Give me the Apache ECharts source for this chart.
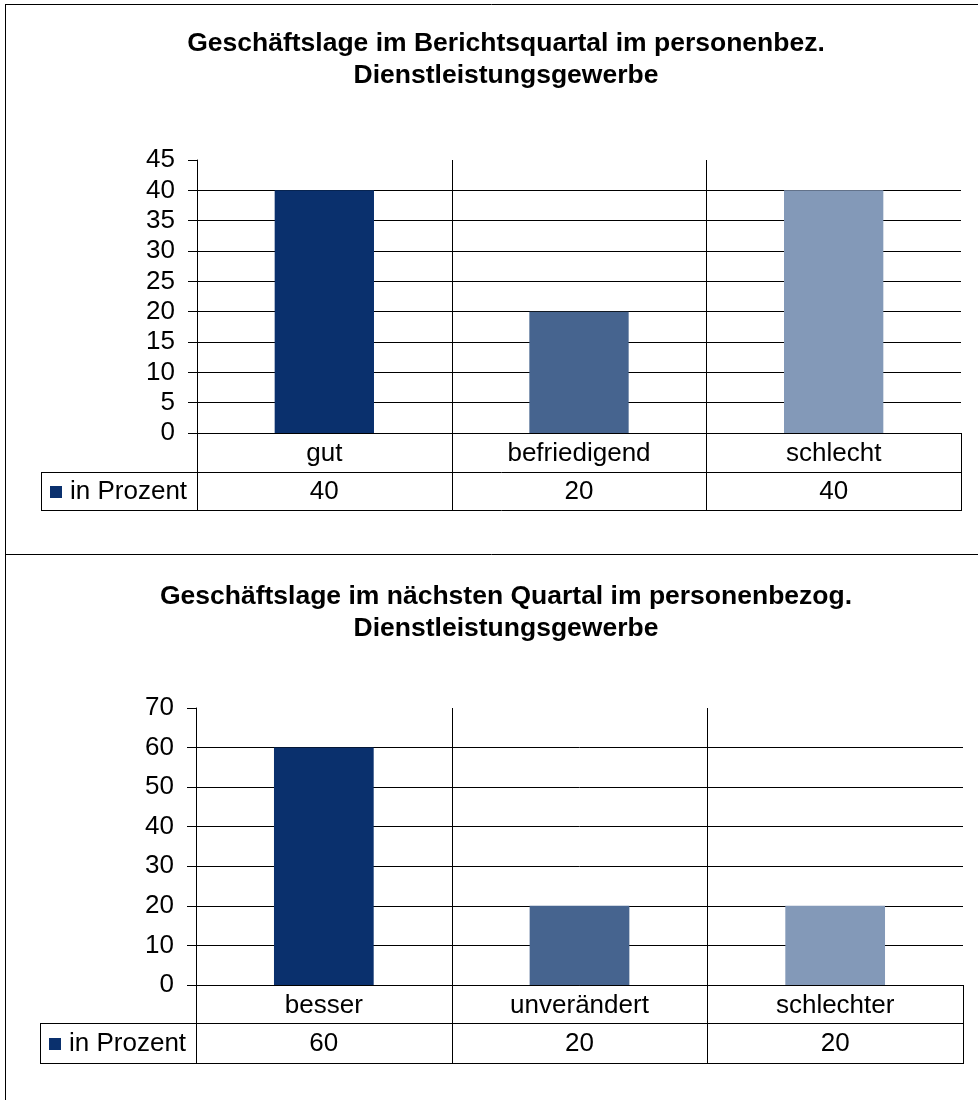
<!DOCTYPE html>
<html>
<head>
<meta charset="utf-8">
<script src="https://cdn.jsdelivr.net/npm/echarts@6/dist/echarts.min.js"></script>
<style>
  html, body { margin: 0; padding: 0; background: #fff; }
  #chart { width: 978px; height: 1100px; }
</style>
</head>
<body>
<div id="chart"></div>
<script>
// Survey results: business situation in personal services (percent of answers)
const titleTop = ['Geschäftslage im Berichtsquartal im personenbez.', 'Dienstleistungsgewerbe'];
const titleBottom = ['Geschäftslage im nächsten Quartal im personenbezog.', 'Dienstleistungsgewerbe'];
const categoriesTop = ['gut', 'befriedigend', 'schlecht'];
const valuesTop = [40, 20, 40];
const categoriesBottom = ['besser', 'unverändert', 'schlechter'];
const valuesBottom = [60, 20, 20];
const axisTop = { max: 45, interval: 5 };
const axisBottom = { max: 70, interval: 10 };
const seriesName = 'in Prozent';
const barColors = ['#0A306D', '#46648F', '#8399B8'];

const FONT = '"Liberation Sans", Arial, sans-serif';
const LINE = '#000';

const panels = [
  { title: titleTop, cats: categoriesTop, vals: valuesTop, axis: axisTop, titleY: 28,
    grid: { left: 197, top: 160, width: 764, height: 273 }, rows: [39, 38], legendLeft: 41 },
  { title: titleBottom, cats: categoriesBottom, vals: valuesBottom, axis: axisBottom, titleY: 581,
    grid: { left: 196, top: 708, width: 767, height: 277 }, rows: [38, 40], legendLeft: 40 }
];

const chart = echarts.init(document.getElementById('chart'), null, { renderer: 'canvas' });

chart.setOption({
  animation: false,
  backgroundColor: '#fff',
  grid: panels.map(p => Object.assign({ containLabel: false }, p.grid)),
  xAxis: panels.map((p, i) => ({
    type: 'category',
    gridIndex: i,
    data: p.cats,
    boundaryGap: true,
    axisLine: { show: true, lineStyle: { color: LINE, width: 1 } },
    axisTick: { show: false },
    splitLine: { show: false },
    axisLabel: { show: true, margin: 8, color: '#000', fontFamily: FONT, fontSize: 26 }
  })),
  yAxis: panels.map((p, i) => ({
    type: 'value',
    gridIndex: i,
    min: 0,
    max: p.axis.max,
    interval: p.axis.interval,
    axisLine: { show: true, lineStyle: { color: LINE, width: 1 } },
    axisTick: { show: true, length: 9, inside: false, lineStyle: { color: LINE, width: 1 } },
    splitLine: { show: true, showMaxLine: false, lineStyle: { color: LINE, width: 1 } },
    axisLabel: { margin: 22, color: '#000', fontFamily: FONT, fontSize: 26 }
  })),
  series: panels.map((p, i) => ({
    type: 'bar',
    name: seriesName,
    xAxisIndex: i,
    yAxisIndex: i,
    barWidth: '39%',
    data: p.vals.map((v, k) => ({ value: v, itemStyle: { color: barColors[k] } }))
  }))
});

// Data table, dividers and titles, positioned from the axes' own scales
function hLine(x1, x2, y) {
  return { type: 'line', silent: true, z: 10,
    shape: { x1: x1, y1: Math.round(y) + 0.5, x2: x2, y2: Math.round(y) + 0.5 },
    style: { stroke: LINE, lineWidth: 1 } };
}
function vLine(x, y1, y2) {
  return { type: 'line', silent: true, z: 10,
    shape: { x1: Math.round(x) + 0.5, y1: y1, x2: Math.round(x) + 0.5, y2: y2 },
    style: { stroke: LINE, lineWidth: 1 } };
}

const graphics = [];
// frame around the two panels
graphics.push(hLine(5, 978, 4));
graphics.push(vLine(5, 4, 1100));
graphics.push(hLine(5, 978, 554));

panels.forEach((p, i) => {
  const centers = p.cats.map(c => chart.convertToPixel({ xAxisIndex: i }, c));
  const band = centers[1] - centers[0];
  const top = chart.convertToPixel({ yAxisIndex: i }, p.axis.max);
  const base = chart.convertToPixel({ yAxisIndex: i }, 0);
  const left = centers[0] - band / 2;
  const right = centers[centers.length - 1] + band / 2;
  const row1 = base + p.rows[0];
  const row2 = row1 + p.rows[1];

  // title
  graphics.push({ type: 'text', silent: true, x: 506, y: p.titleY,
    style: { text: p.title.join('\n'), fill: '#000', font: 'bold 26.5px ' + FONT,
      lineHeight: 32, align: 'center', verticalAlign: 'top' } });

  // category dividers through the plot and the table
  for (let k = 1; k < centers.length; k++) {
    graphics.push(vLine(centers[k] - band / 2, top, row2));
  }
  graphics.push(vLine(left, base, row2));
  graphics.push(vLine(right, base, row2));
  graphics.push(hLine(p.legendLeft, right + 1, row1));
  graphics.push(hLine(p.legendLeft, right + 1, row2));
  graphics.push(vLine(p.legendLeft, row1, row2));

  // legend key in the table
  const midY = (row1 + row2) / 2 + 1;
  graphics.push({ type: 'rect', silent: true, z: 10,
    shape: { x: p.legendLeft + 9, y: Math.round(midY) - 6, width: 12, height: 12 },
    style: { fill: barColors[0] } });
  graphics.push({ type: 'text', silent: true, z: 10, x: p.legendLeft + 29, y: midY,
    style: { text: seriesName, fill: '#000', font: '26px ' + FONT, align: 'left', verticalAlign: 'middle' } });

  // values row
  p.vals.forEach((v, k) => {
    graphics.push({ type: 'text', silent: true, z: 10, x: centers[k], y: midY,
      style: { text: String(v), fill: '#000', font: '26px ' + FONT, align: 'center', verticalAlign: 'middle' } });
  });
});

chart.setOption({ graphic: { elements: graphics } });
</script>
</body>
</html>
